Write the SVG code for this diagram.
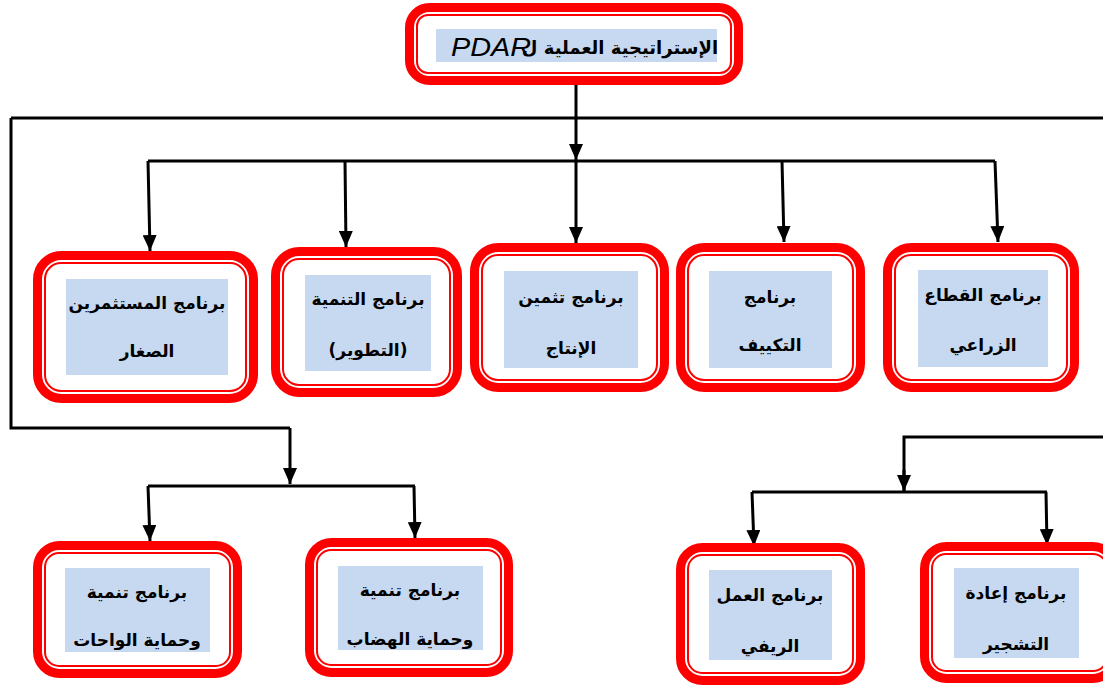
<svg xmlns="http://www.w3.org/2000/svg" width="1103" height="688" viewBox="0 0 1103 688">
<style>
.outer{fill:#fff;stroke:#ff0000;stroke-width:9}
.inner{fill:none;stroke:#ff0000;stroke-width:2}
.bg{fill:#c6d9f1}
.ar{font-family:'DejaVu Sans',sans-serif;font-weight:bold;font-size:17px;fill:#000;direction:rtl;text-anchor:middle;dominant-baseline:central}
.ln{fill:none;stroke:#000;stroke-width:3}
</style>
<defs>
<marker id="ah" markerUnits="userSpaceOnUse" markerWidth="16" markerHeight="14" refX="16" refY="7" orient="auto">
<path d="M0,0 L16,7 L0,14 z" fill="#000"/>
</marker>
</defs>
<rect width="1103" height="688" fill="#fff"/>
<g id="connectors">
<line class="ln" x1="11" y1="118" x2="1103" y2="118"/>
<polyline class="ln" points="11,118 11,428 290,428"/>
<line class="ln" x1="576" y1="84" x2="576" y2="160" marker-end="url(#ah)"/>
<line class="ln" x1="148" y1="161" x2="995" y2="161"/>
<line class="ln" x1="148" y1="161" x2="150" y2="251" marker-end="url(#ah)"/>
<line class="ln" x1="345" y1="161" x2="346" y2="247" marker-end="url(#ah)"/>
<line class="ln" x1="576" y1="161" x2="576" y2="243" marker-end="url(#ah)"/>
<line class="ln" x1="782" y1="161" x2="784" y2="242" marker-end="url(#ah)"/>
<line class="ln" x1="995" y1="161" x2="998" y2="242" marker-end="url(#ah)"/>
<line class="ln" x1="290" y1="428" x2="290" y2="484" marker-end="url(#ah)"/>
<line class="ln" x1="148" y1="486" x2="415" y2="486"/>
<line class="ln" x1="148" y1="486" x2="150" y2="541" marker-end="url(#ah)"/>
<line class="ln" x1="414" y1="486" x2="415" y2="538" marker-end="url(#ah)"/>
<polyline class="ln" points="1103,437 904,437 904,491"/>
<line class="ln" x1="904" y1="470" x2="904" y2="491" marker-end="url(#ah)"/>
<line class="ln" x1="752" y1="492" x2="1047" y2="492"/>
<line class="ln" x1="752" y1="492" x2="754" y2="546" marker-end="url(#ah)"/>
<line class="ln" x1="1046" y1="492" x2="1047" y2="545" marker-end="url(#ah)"/>
</g>
<g id="n0">
<rect class="outer" x="409.5" y="7.5" width="329" height="73" rx="20"/>
<rect class="inner" x="417" y="15" width="314" height="58" rx="11"/>
<rect class="bg" x="436" y="29" width="281" height="33"/>
<text class="ar" x="620" y="47" style="font-size:18px">الإستراتيجية العملية ل</text>
<text x="491" y="56" font-family="'Liberation Sans',Arial,sans-serif" font-style="italic" font-size="26" text-anchor="middle" textLength="80" lengthAdjust="spacingAndGlyphs">PDAR</text>
</g>
<g id="n1">
<rect class="outer" x="37.5" y="255.5" width="216" height="143" rx="24"/>
<rect class="inner" x="45" y="263" width="201" height="128" rx="16"/>
<rect class="bg" x="66" y="279" width="162" height="96"/>
<text class="ar" x="147" y="303">برنامج المستثمرين</text>
<text class="ar" x="147" y="351">الصغار</text>
</g>
<g id="n2">
<rect class="outer" x="275.5" y="251.5" width="182" height="141" rx="24"/>
<rect class="inner" x="283" y="259" width="167" height="126" rx="16"/>
<rect class="bg" x="305" y="275" width="126" height="96"/>
<text class="ar" x="368" y="299">برنامج التنمية</text>
<text class="ar" x="368" y="350">(التطوير)</text>
</g>
<g id="n3">
<rect class="outer" x="474.5" y="247.5" width="190" height="140" rx="24"/>
<rect class="inner" x="482" y="255" width="175" height="125" rx="16"/>
<rect class="bg" x="504" y="271" width="134" height="97"/>
<text class="ar" x="571" y="297">برنامج تثمين</text>
<text class="ar" x="571" y="348">الإنتاج</text>
</g>
<g id="n4">
<rect class="outer" x="680.5" y="247.5" width="180" height="140" rx="24"/>
<rect class="inner" x="688" y="255" width="165" height="125" rx="16"/>
<rect class="bg" x="709" y="271" width="123" height="97"/>
<text class="ar" x="770" y="297">برنامج</text>
<text class="ar" x="770" y="345">التكييف</text>
</g>
<g id="n5">
<rect class="outer" x="887.5" y="247.5" width="187" height="140" rx="24"/>
<rect class="inner" x="895" y="255" width="172" height="125" rx="16"/>
<rect class="bg" x="918" y="270" width="130" height="97"/>
<text class="ar" x="983" y="295">برنامج القطاع</text>
<text class="ar" x="983" y="345">الزراعي</text>
</g>
<g id="n6">
<rect class="outer" x="37.5" y="545.5" width="200" height="128" rx="22"/>
<rect class="inner" x="45" y="553" width="185" height="113" rx="14"/>
<rect class="bg" x="65" y="568" width="145" height="84"/>
<text class="ar" x="137" y="592">برنامج تنمية</text>
<text class="ar" x="137" y="640">وحماية الواحات</text>
</g>
<g id="n7">
<rect class="outer" x="309.5" y="542.5" width="199" height="130" rx="22"/>
<rect class="inner" x="317" y="550" width="184" height="115" rx="14"/>
<rect class="bg" x="338" y="566" width="145" height="84"/>
<text class="ar" x="410" y="590">برنامج تنمية</text>
<text class="ar" x="410" y="639">وحماية الهضاب</text>
</g>
<g id="n8">
<rect class="outer" x="680.5" y="547.5" width="180" height="133" rx="22"/>
<rect class="inner" x="688" y="555" width="165" height="118" rx="14"/>
<rect class="bg" x="709" y="570" width="123" height="90"/>
<text class="ar" x="770" y="595">برنامج العمل</text>
<text class="ar" x="770" y="646">الريفي</text>
</g>
<g id="n9">
<rect class="outer" x="924.5" y="546.5" width="190" height="132" rx="22"/>
<rect class="inner" x="932" y="554" width="175" height="117" rx="14"/>
<rect class="bg" x="954" y="568" width="125" height="90"/>
<text class="ar" x="1016" y="593">برنامج إعادة</text>
<text class="ar" x="1016" y="644">التشجير</text>
</g>
</svg>
